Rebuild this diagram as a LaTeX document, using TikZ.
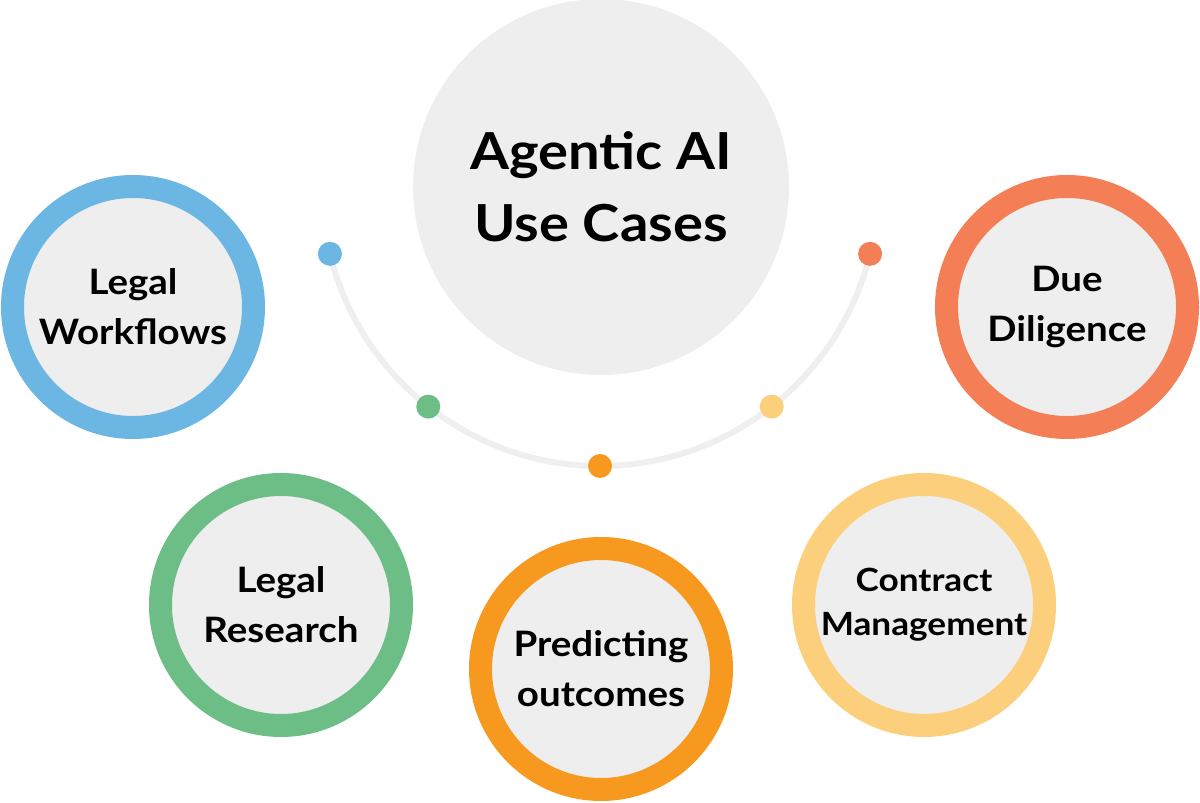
\documentclass[tikz,border=0pt]{standalone}
\usepackage{fontspec}
\setmainfont{Lato}[FakeStretch=1.1]
\definecolor{cblue}{HTML}{6CB6E4}
\definecolor{cgreen}{HTML}{6DBD86}
\definecolor{corange}{HTML}{F7991F}
\definecolor{cyellow}{HTML}{FCCF7C}
\definecolor{cred}{HTML}{F47F56}
\definecolor{cgray}{HTML}{EEEEEE}
\definecolor{carc}{HTML}{EFEFEF}
\begin{document}
\begin{tikzpicture}[x=1pt,y=1pt,
  ring/.style={circle, draw=#1, line width=23pt, fill=cgray, minimum size=241pt, inner sep=0pt,
    align=center, font=\bfseries\fontsize{35}{50}\selectfont, text=black},
  hub/.style={circle, fill=cgray, minimum size=376pt, inner sep=0pt, align=center,
    font=\bfseries\fontsize{51}{72}\selectfont, text=black},
  dot/.style={circle, fill=#1, minimum size=24pt, inner sep=0pt},
  arcline/.style={draw=carc, line width=6pt}
]
\useasboundingbox (0,0) rectangle (1200,803);
\node[hub] (hub) at (601,616) {Agentic AI\\Use Cases};
\coordinate (ac) at (600,615);
\draw[arcline] ([shift={(193.7:278)}]ac) arc[start angle=193.7, end angle=346.3, radius=278];
\node[dot=cblue] (d1) at ([shift={(193.7:278)}]ac) {};
\node[dot=cgreen] (d2) at ([shift={(231.85:278)}]ac) {};
\node[dot=corange] (d3) at ([shift={(270:278)}]ac) {};
\node[dot=cyellow] (d4) at ([shift={(308.15:278)}]ac) {};
\node[dot=cred] (d5) at ([shift={(346.3:278)}]ac) {};
\node[ring=cblue] (lw) at (133,496) {Legal\\Workflows};
\node[ring=cgreen] (lr) at (281,198) {Legal\\Research};
\node[ring=corange] (po) at (601,134) {Predicting\\outcomes};
\node[ring=cyellow, font=\bfseries\fontsize{32}{44}\selectfont] (cm) at (924,198) {Contract\\Management};
\node[ring=cred] (dd) at (1067,496) {Due\\Diligence};
\end{tikzpicture}
\end{document}
